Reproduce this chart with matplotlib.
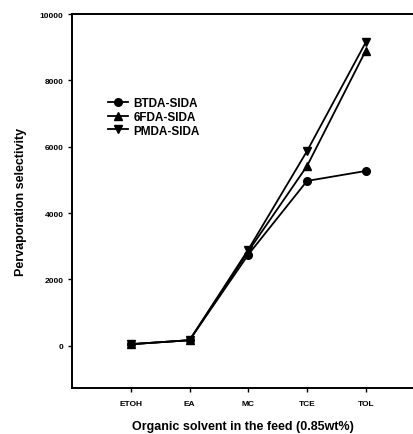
import matplotlib.pyplot as plt

# Datos
solventes = ['ETOH', 'EA', 'MC', 'TCE', 'TOL']
btda_sida = [50, 170, 2750, 4970, 5270]
fda_sida = [50, 170, 2850, 5420, 8900]
pmda_sida = [50, 170, 2900, 5870, 9150]

plt.rcParams['font.family'] = ['Liberation Sans', 'DejaVu Sans']
plt.rcParams['font.weight'] = 'bold'

fig = plt.figure(figsize=(4.14, 4.35), dpi=100)
ax = fig.add_axes([72 / 414, 1 - 389 / 435, 342 / 414, 374 / 435])

x = list(range(1, len(solventes) + 1))
ax.plot(x, btda_sida, color='black', lw=1.3, marker='o', ms=5.5, label='BTDA-SIDA')
ax.plot(x, fda_sida, color='black', lw=1.3, marker='^', ms=5.5, label='6FDA-SIDA')
ax.plot(x, pmda_sida, color='black', lw=1.3, marker='v', ms=5.5, label='PMDA-SIDA')

ax.set_xlim(0, 5.82)
ax.set_ylim(-1270, 10000)
ax.set_xticks(x)
ax.set_xticklabels(solventes)
ax.set_yticks([0, 2000, 4000, 6000, 8000, 10000])
ax.tick_params(labelsize=6, length=3, width=1, direction='out', pad=6)
ax.tick_params(axis='y', pad=3)
for s in ['left', 'bottom', 'top']:
    ax.spines[s].set_linewidth(1.4)
ax.spines['right'].set_visible(False)

ax.set_xlabel('Organic solvent in the feed (0.85wt%)', fontsize=9, fontweight='bold', labelpad=9)
ax.set_ylabel('Pervaporation selectivity', fontsize=9, fontweight='bold', labelpad=9)

ax.legend(loc='upper left', bbox_to_anchor=(0.08, 0.80), frameon=False, fontsize=8.5,
          handlelength=1.7, labelspacing=0.15, borderpad=0.2, handletextpad=0.5)

fig.savefig('out.png', dpi=100)
